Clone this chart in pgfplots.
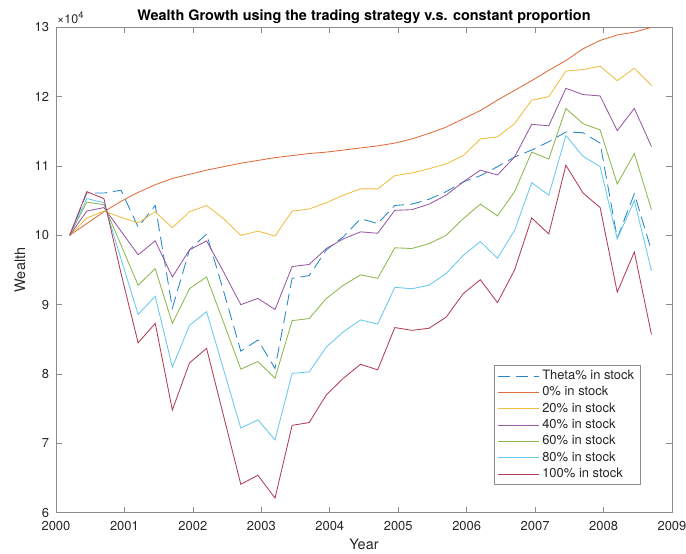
\documentclass[border=0pt]{standalone}
\usepackage{fontspec}
\setmainfont{TeX Gyre Heros}
\usepackage{pgfplots}
\pgfplotsset{compat=1.18}
\usepackage{pgfplotstable}

\definecolor{mblue0}{rgb}{0,0.447,0.741}
\definecolor{morange0}{rgb}{0.85,0.325,0.098}
\definecolor{myellow0}{rgb}{0.929,0.694,0.125}
\definecolor{mpurple0}{rgb}{0.494,0.184,0.556}
\definecolor{mgreen0}{rgb}{0.466,0.674,0.188}
\definecolor{mcyan0}{rgb}{0.301,0.745,0.933}
\definecolor{mred0}{rgb}{0.635,0.078,0.184}
\colorlet{mblue}{mblue0!85!white}
\colorlet{morange}{morange0!85!white}
\colorlet{myellow}{myellow0!85!white}
\colorlet{mpurple}{mpurple0!80!white}
\colorlet{mgreen}{mgreen0!85!white}
\colorlet{mcyan}{mcyan0!85!white}
\colorlet{mred}{mred0!82!white}
\definecolor{axgray}{RGB}{140,140,140}
\definecolor{txtgray}{RGB}{38,38,38}

\pgfplotstableread{
year theta p0 p20 p40 p60 p80 p100
2000.20 10.00 10.00 10.00 10.00 10.00 10.00 10.00
2000.45 10.61 10.17 10.25 10.35 10.48 10.53 10.63
2000.70 10.61 10.34 10.35 10.40 10.44 10.47 10.53
2000.95 10.65 10.49 10.26 10.06 9.86 9.66 9.45
2001.20 10.12 10.62 10.18 9.72 9.28 8.86 8.45
2001.45 10.43 10.73 10.34 9.92 9.52 9.12 8.73
2001.70 8.95 10.82 10.11 9.40 8.73 8.10 7.48
2001.95 9.79 10.88 10.34 9.79 9.23 8.70 8.16
2002.20 10.02 10.94 10.43 9.92 9.40 8.90 8.37
2002.45 9.19 10.99 10.24 9.47 8.74 8.06 7.39
2002.70 8.33 11.04 10.00 9.00 8.07 7.22 6.41
2002.95 8.49 11.08 10.06 9.09 8.18 7.34 6.54
2003.20 8.08 11.12 9.99 8.93 7.94 7.05 6.21
2003.45 9.38 11.15 10.35 9.55 8.77 8.01 7.26
2003.70 9.42 11.18 10.38 9.58 8.80 8.03 7.30
2003.95 9.79 11.20 10.47 9.81 9.09 8.39 7.70
2004.20 9.98 11.23 10.58 9.95 9.28 8.61 7.94
2004.45 10.24 11.26 10.67 10.05 9.43 8.78 8.14
2004.70 10.17 11.29 10.67 10.03 9.38 8.72 8.06
2004.95 10.43 11.33 10.86 10.36 9.82 9.25 8.67
2005.20 10.45 11.39 10.90 10.37 9.81 9.23 8.63
2005.45 10.52 11.47 10.96 10.45 9.88 9.28 8.66
2005.70 10.63 11.56 11.03 10.58 10.00 9.45 8.82
2005.95 10.77 11.68 11.15 10.77 10.24 9.71 9.16
2006.20 10.86 11.80 11.39 10.94 10.45 9.91 9.36
2006.45 10.99 11.95 11.42 10.87 10.28 9.67 9.03
2006.70 11.13 12.09 11.61 11.13 10.63 10.07 9.50
2006.95 11.23 12.23 11.95 11.60 11.20 10.76 10.25
2007.20 11.35 12.38 12.00 11.58 11.10 10.58 10.02
2007.45 11.49 12.52 12.37 12.12 11.83 11.44 11.01
2007.70 11.48 12.69 12.39 12.03 11.61 11.14 10.61
2007.95 11.33 12.81 12.44 12.01 11.52 10.99 10.40
2008.20 9.96 12.89 12.23 11.51 10.74 9.95 9.18
2008.45 10.60 12.93 12.41 11.83 11.18 10.50 9.76
2008.70 9.78 13.00 12.16 11.28 10.37 9.49 8.57
}\datatable

\begin{document}
\begin{tikzpicture}
\useasboundingbox (-56bp,-41.3bp) rectangle (630bp,512.7bp);
\begin{axis}[
  at={(0,0)}, anchor=south west,
  scale only axis,
  width=616bp, height=485.4bp,
  xmin=2000, xmax=2009, ymin=6, ymax=13,
  clip=false,
  xtick={2000,2001,2002,2003,2004,2005,2006,2007,2008,2009},
  xticklabels={2000,2001,2002,2003,2004,2005,2006,2007,2008,2009},
  ytick={6,7,8,9,10,11,12,13},
  yticklabels={6,7,8,9,10,11,12,13},
  tick align=inside,
  tick pos=both,
  major tick length=6bp,
  axis line style={axgray, line width=0.7bp},
  every tick/.style={axgray, line width=0.7bp},
  tick label style={font=\fontsize{13}{15.6}\selectfont, text=txtgray},
  xticklabel style={yshift=-5bp},
  yticklabel style={xshift=-3.5bp},
  xlabel={Year},
  ylabel={Wealth},
  label style={font=\fontsize{14.5}{17}\selectfont, text=txtgray},
  xlabel style={at={(axis description cs:0.5,-0.0768)}, anchor=base},
  ylabel style={at={(axis description cs:-0.0584,0.5)}, anchor=center},
  title={Wealth Growth using the trading strategy v.s. constant proportion},
  every axis title shift=0pt,
  title style={font=\fontsize{14.5}{17}\selectfont\bfseries, at={(axis description cs:0.5,1)}, anchor=base, yshift=6.6bp},
  legend cell align=left,
  legend style={at={(axis description cs:0.9497,0.057)}, anchor=south east,
    draw=axgray, line width=0.7bp, fill=white,
    font=\fontsize{13}{15.6}\selectfont, text=txtgray,
    row sep=0pt, inner xsep=3.5bp, inner ysep=2.5bp,
    nodes={inner xsep=3bp, inner ysep=2bp, text height=9.5bp, text depth=2.8bp}},
  legend image post style={xscale=2.4},
  every axis plot/.append style={line width=0.85bp},
]
\addplot[mblue, dash pattern=on 12bp off 6bp] table[x=year,y=theta] {\datatable};
\addlegendentry{Theta\% in stock}
\addplot[morange] table[x=year,y=p0] {\datatable};
\addlegendentry{0\% in stock}
\addplot[myellow] table[x=year,y=p20] {\datatable};
\addlegendentry{20\% in stock}
\addplot[mpurple] table[x=year,y=p40] {\datatable};
\addlegendentry{40\% in stock}
\addplot[mgreen] table[x=year,y=p60] {\datatable};
\addlegendentry{60\% in stock}
\addplot[mcyan] table[x=year,y=p80] {\datatable};
\addlegendentry{80\% in stock}
\addplot[mred] table[x=year,y=p100] {\datatable};
\addlegendentry{100\% in stock}
\node[anchor=base west, font=\fontsize{12.5}{15}\selectfont, text=txtgray, yshift=4bp, inner sep=0pt, xshift=1bp] at (axis description cs:0,1) {×10\raisebox{0.42em}{\fontsize{9.5}{11}\selectfont 4}};
\end{axis}
\end{tikzpicture}
\end{document}
